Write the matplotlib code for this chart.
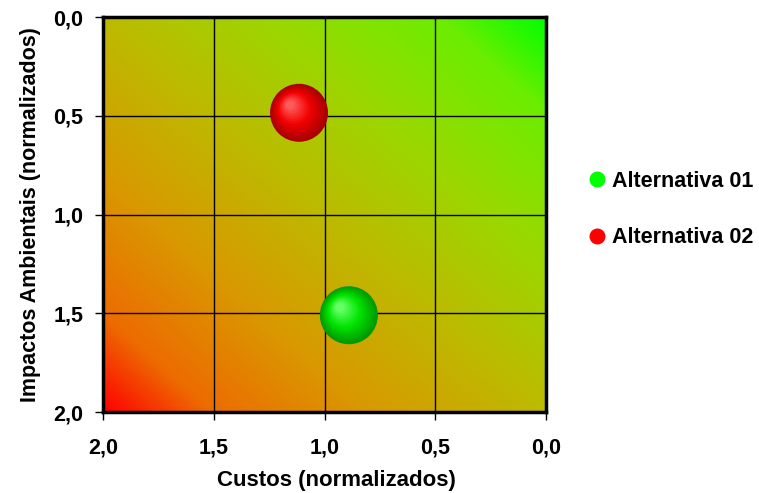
import numpy as np
import matplotlib
matplotlib.use("Agg")
import matplotlib.pyplot as plt
from matplotlib.colors import LinearSegmentedColormap
from matplotlib.lines import Line2D

plt.rcParams['font.family'] = ['Liberation Sans', 'DejaVu Sans']
plt.rcParams['font.weight'] = 'bold'

alternatives = ["Alternativa 01", "Alternativa 02"]
custos = [0.89, 1.115]        # x: custos (normalizados)
impactos = [1.51, 0.485]      # y: impactos ambientais (normalizados)
colors = ["#00ff00", "#ff0000"]
ticks = [0.0, 0.5, 1.0, 1.5, 2.0]
tick_labels = ["0,0", "0,5", "1,0", "1,5", "2,0"]

fig = plt.figure(figsize=(7.59, 4.93), dpi=100)
ax = fig.add_axes([0.1357, 0.1643, 0.5837, 0.8012])

# background gradient: red at (2,2) -> olive-yellow -> green at (0,0)
cmap = LinearSegmentedColormap.from_list("rg", [
    (0.0, (1.0, 0.0, 0.0)),
    (0.12, (0.93, 0.42, 0.0)),
    (0.3, (0.85, 0.6, 0.0)),
    (0.5, (0.74, 0.73, 0.0)),
    (0.7, (0.6, 0.85, 0.0)),
    (0.88, (0.42, 0.93, 0.0)),
    (1.0, (0.0, 1.0, 0.0))])
gx, gy = np.meshgrid(np.linspace(2, 0, 400), np.linspace(0, 2, 400))
t = (4 - gx - gy) / 4
ax.imshow(t, cmap=cmap, extent=(2, 0, 2, 0), aspect='auto', vmin=0, vmax=1,
          interpolation='bilinear', zorder=0)

ax.set_xlim(2, 0)
ax.set_ylim(2, 0)
ax.set_xticks(ticks)
ax.set_yticks(ticks)
ax.set_xticklabels(tick_labels)
ax.set_yticklabels(tick_labels)
ax.grid(True, color='black', lw=1.0, zorder=1)
ax.set_axisbelow(False)
for s in ax.spines.values():
    s.set_linewidth(2.5)
    s.set_zorder(5)
ax.tick_params(axis='both', direction='out', length=6, width=1, labelsize=15.5)
ax.tick_params(axis='x', pad=12)
ax.tick_params(axis='y', pad=8)
ax.set_xlabel("Custos (normalizados)", fontsize=16, fontweight='bold')
ax.set_ylabel("Impactos Ambientais (normalizados)", fontsize=15.5, fontweight='bold', labelpad=9)
ax.xaxis.set_label_coords(0.528, -0.147)

# shaded spheres
px_x = 443 / 2.0   # pixels per data unit
px_y = 395 / 2.0
R = 29.0
shade = {
    "#00ff00": ((0.0, 0.6, 0.0), (0.0, 0.9, 0.0), (0.4, 1.0, 0.4)),
    "#ff0000": ((0.66, 0.0, 0.0), (0.95, 0.0, 0.0), (1.0, 0.35, 0.35)),
}
n = 14
for x, y, c in zip(custos, impactos, colors):
    edge, body, hi = shade[c]
    for k in range(n):
        f = k / (n - 1)
        r = R * (1 - 0.85 * f)
        dx = -9 * f / px_x
        dy = -8 * f / px_y
        if f < 0.5:
            w = f / 0.5
            col = tuple(edge[i] + (body[i] - edge[i]) * w for i in range(3))
        else:
            w = (f - 0.5) / 0.5
            col = tuple(body[i] + (hi[i] - body[i]) * w for i in range(3))
        ax.scatter([x - dx], [y + dy], s=(2 * r * 72 / 100) ** 2, color=col,
                   edgecolors='none', zorder=3 + f)

handles = [Line2D([], [], marker='o', ls='none', color=c, markersize=10.5)
           for c in colors]
fig.legend(handles, alternatives, loc='center left', bbox_to_anchor=(0.748, 0.575),
           frameon=False, prop={'weight': 'bold', 'size': 15.5},
           labelspacing=1.65, handletextpad=0.25, handlelength=0.9)

fig.savefig("out.png", dpi=100)
